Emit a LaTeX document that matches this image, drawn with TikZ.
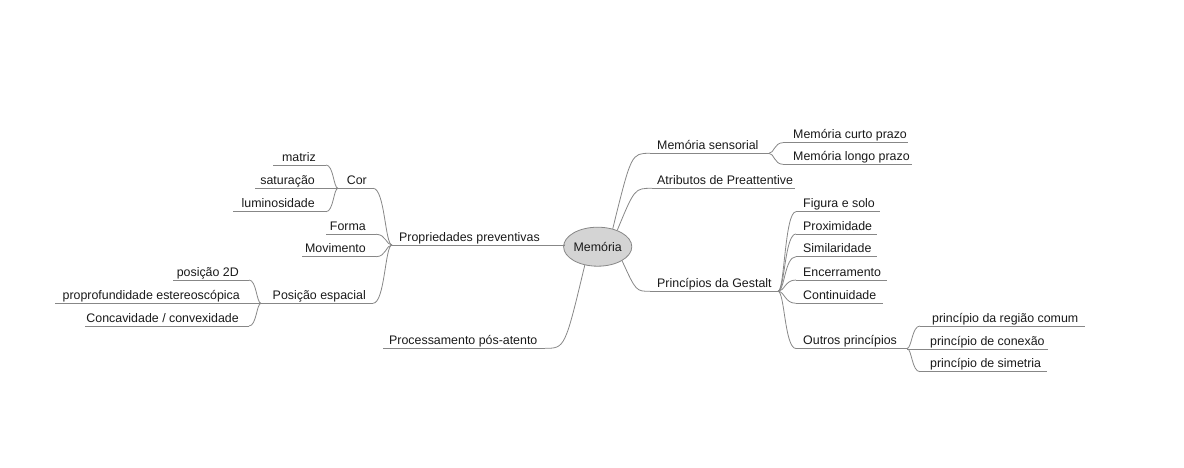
\documentclass[tikz,border=0pt]{standalone}
\usepackage{fontspec}
\setmainfont{Liberation Sans}
\usetikzlibrary{calc,shapes.geometric}
\definecolor{lncol}{RGB}{135,135,135}
\definecolor{elfill}{RGB}{212,212,212}
\definecolor{txtcol}{RGB}{25,25,25}
\tikzset{
  ln/.style={draw=lncol, line width=0.8pt},
  lt/.style={font=\fontsize{12.4}{14}\selectfont, text=txtcol, inner sep=0pt},
  ctr/.style={ellipse, draw=lncol, fill=elfill, line width=0.8pt, minimum width=66pt, minimum height=39pt, inner sep=0pt, font=\fontsize{12.4}{14}\selectfont, text=txtcol}
}
% name, line x1, line x2, y, text x, text
\newcommand\Rtopic[6]{%
  \coordinate (#1A) at (#2,#4);
  \coordinate (#1B) at (#3,#4);
  \draw[ln] (#1A) -- (#1B);
  \node[lt, anchor=base west] (#1) at (#5,#4-4) {#6};}
\newcommand\Ltopic[6]{%
  \coordinate (#1A) at (#2,#4);
  \coordinate (#1B) at (#3,#4);
  \draw[ln] (#1A) -- (#1B);
  \node[lt, anchor=base east] (#1) at (#5,#4-4) {#6};}
% quadratic link from the centre
\newcommand\mmcurve[3]{\draw[ln] (#1) .. controls ($(#1 |- #2)!#3!(#2)$) .. (#2);}
% S-shaped link from a junction
\newcommand\mmlink[2]{\draw[ln] (#1) .. controls ($(#1)!0.37!(#1 -| #2)$) and ($(#2)!0.63!(#2 -| #1)$) .. (#2);}
\begin{document}
\begin{tikzpicture}[x=1pt,y=-1pt]
\useasboundingbox (0,0) rectangle (1184,468);
% centre
\node[ctr] (mem) at (597.7,246.7) {Memória};
% right side
\Rtopic{ms}{650}{769}{153.3}{657}{Memória sensorial}
\Rtopic{at}{652}{795}{188.3}{657}{Atributos de Preattentive}
\Rtopic{pg}{650}{778}{291.3}{657}{Princípios da Gestalt}
\Rtopic{cp}{783}{908}{142.7}{793}{Memória curto prazo}
\Rtopic{lp}{783}{912}{164.3}{793}{Memória longo prazo}
\Rtopic{fs}{796}{880}{211.7}{803}{Figura e solo}
\Rtopic{px}{796}{877}{234}{803}{Proximidade}
\Rtopic{sm}{796}{877}{256.7}{803}{Similaridade}
\Rtopic{en}{796}{887}{280}{803}{Encerramento}
\Rtopic{co}{796}{883}{303.3}{803}{Continuidade}
\Rtopic{op}{796}{907}{348.5}{803}{Outros princípios}
\Rtopic{rc}{920}{1085}{326}{932}{princípio da região comum}
\Rtopic{cx}{907}{1048}{349}{930}{princípio de conexão}
\Rtopic{si}{920}{1047}{371.7}{930}{princípio de simetria}
% left side
\Rtopic{pp}{392}{565}{245}{399}{Propriedades preventivas}
\Rtopic{pa}{383}{545}{348.3}{389}{Processamento pós-atento}
\Ltopic{cor}{338}{373}{188.3}{367}{Cor}
\Ltopic{fo}{326}{376}{234.3}{366}{Forma}
\Ltopic{mv}{302}{376}{256.7}{366}{Movimento}
\Ltopic{pe}{261}{373}{303.3}{366}{Posição espacial}
\Ltopic{mt}{273}{326}{165}{316}{matriz}
\Ltopic{st}{255}{338}{188.3}{315}{saturação}
\Ltopic{lu}{233}{326}{211.7}{315}{luminosidade}
\Ltopic{pd}{173}{249}{280}{239}{posição 2D}
\Ltopic{pr}{55}{261}{303.3}{240}{proprofundidade estereoscópica}
\Ltopic{cc}{85}{249}{326}{239}{Concavidade / convexidade}
% links from centre
\mmcurve{mem.50}{msA}{0.5}
\mmcurve{mem.40}{atA}{0.5}
\mmcurve{mem.-30}{pgA}{0.5}
\mmcurve{mem.-125}{paB}{0.5}
\draw[ln] (mem.177) -- (ppB);
% sub links
\mmlink{msB}{cpA}
\mmlink{msB}{lpA}
\mmlink{pgB}{fsA}
\mmlink{pgB}{pxA}
\mmlink{pgB}{smA}
\mmlink{pgB}{enA}
\mmlink{pgB}{coA}
\mmlink{pgB}{opA}
\mmlink{opB}{rcA}
\mmlink{opB}{siA}
\mmlink{ppA}{corB}
\mmlink{ppA}{foB}
\mmlink{ppA}{mvB}
\mmlink{ppA}{peB}
\mmlink{corA}{mtB}
\mmlink{corA}{luB}
\mmlink{peA}{pdB}
\mmlink{peA}{ccB}
\end{tikzpicture}
\end{document}
